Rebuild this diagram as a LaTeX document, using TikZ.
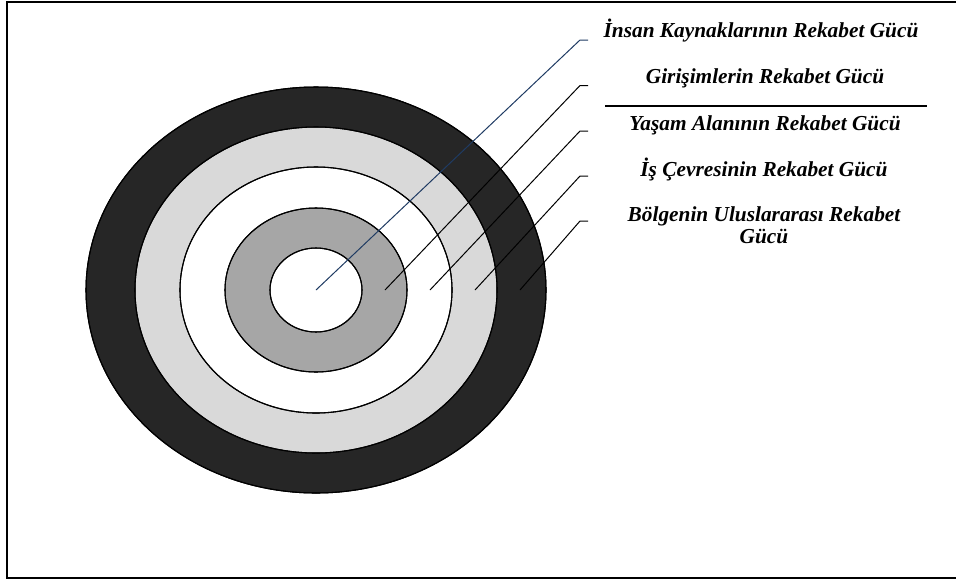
\documentclass[tikz,border=0pt]{standalone}
\usepackage{fontspec}
\setmainfont{Liberation Serif}
\usetikzlibrary{positioning}
\definecolor{Ring}{HTML}{262626}
\definecolor{LightRing}{HTML}{D9D9D9}
\definecolor{MidRing}{HTML}{A6A6A6}
\definecolor{LeaderBlue}{HTML}{1F3B63}
\tikzset{
  ring/.style={draw=black, line width=0.8pt},
  leader/.style={draw=black, line width=0.75pt},
  label/.style={font=\bfseries\itshape\fontsize{16}{16.5}\selectfont, align=center, inner sep=0pt},
  frame/.style={draw=black, line width=1.5pt},
}

\begin{document}
\begin{tikzpicture}[x=0.75pt, y=-0.75pt]
  % Page size in reference pixels, frame runs past the right side.
  \useasboundingbox (0,0) rectangle (956,583);
  \clip (0,0) rectangle (956,583);
  \draw[frame] (7,1.5) rectangle (970,578);

  % Rings, outermost first, all sharing one centre.
  \coordinate (centre) at (316,290);
  \fill[ring, fill=Ring] (centre) ellipse [x radius=230, y radius=203];
  \fill[ring, fill=LightRing] (centre) ellipse [x radius=181, y radius=163];
  \fill[ring, fill=white] (centre) ellipse [x radius=136, y radius=123];
  \fill[ring, fill=MidRing] (centre) ellipse [x radius=91, y radius=82];
  \fill[ring, fill=white] (centre) ellipse [x radius=46, y radius=42];
  \draw[ring] (centre) ellipse [x radius=230, y radius=203];
  \draw[ring] (centre) ellipse [x radius=181, y radius=163];
  \draw[ring] (centre) ellipse [x radius=136, y radius=123];
  \draw[ring] (centre) ellipse [x radius=91, y radius=82];
  \draw[ring] (centre) ellipse [x radius=46, y radius=42];

  % Labels on the right.
  \node[label] (insan) at (761,31) {İnsan Kaynaklarının Rekabet Gücü};
  \node[label] (girisim) at (765,78) {Girişimlerin Rekabet Gücü};
  \node[label] (yasam) at (765,125) {Yaşam Alanının Rekabet Gücü};
  \node[label] (iscevre) at (764,169) {İş Çevresinin Rekabet Gücü};
  \node[label] (bolge) at (764,225) {Bölgenin Uluslararası Rekabet\\Gücü};
  \coordinate (sepL) at (605,106);
  \coordinate (sepR) at (927,106);
  \draw[draw=black, line width=1pt] (sepL) -- (sepR);

  % Leader lines: start inside each ring, bend, short level tail.
  \coordinate (s1) at (316,290);
  \coordinate (s2) at (385,290);
  \coordinate (s3) at (430,290);
  \coordinate (s4) at (475,290);
  \coordinate (s5) at (520,290);
  \coordinate (b1) at (580,40);
  \coordinate (b2) at (580,85.5);
  \coordinate (b3) at (580,131);
  \coordinate (b4) at (580,176);
  \coordinate (b5) at (580,221);
  \draw[leader, draw=LeaderBlue] (s1) -- (b1) -- ++(8,0) coordinate (e1);
  \draw[leader] (s2) -- (b2) -- ++(8,0) coordinate (e2);
  \draw[leader] (s3) -- (b3) -- ++(8,0) coordinate (e3);
  \draw[leader] (s4) -- (b4) -- ++(8,0) coordinate (e4);
  \draw[leader] (s5) -- (b5) -- ++(8,0) coordinate (e5);
\end{tikzpicture}
\end{document}
